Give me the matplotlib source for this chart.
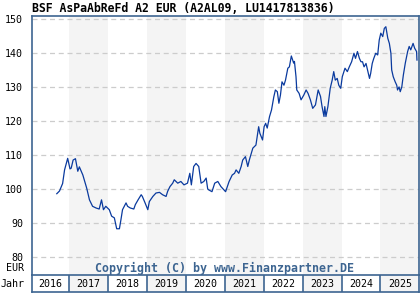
import numpy as np
import matplotlib.pyplot as plt

# price history (decimal year, EUR)
t = [2016.68, 2016.75, 2016.83, 2016.88, 2016.96, 2017.02, 2017.05, 2017.10, 2017.16, 2017.22,
     2017.26, 2017.35, 2017.45, 2017.52, 2017.60, 2017.69, 2017.77, 2017.83, 2017.88, 2017.94,
     2018.03, 2018.09, 2018.16, 2018.22, 2018.29, 2018.33, 2018.37, 2018.46, 2018.50, 2018.57,
     2018.66, 2018.70, 2018.77, 2018.85, 2018.88, 2018.95, 2019.02, 2019.06, 2019.15, 2019.23,
     2019.32, 2019.40, 2019.49, 2019.53, 2019.59, 2019.66, 2019.70, 2019.79, 2019.87, 2019.95,
     2020.04, 2020.10, 2020.14, 2020.20, 2020.26, 2020.33, 2020.39, 2020.46, 2020.52, 2020.56,
     2020.59, 2020.67, 2020.74, 2020.82, 2020.90, 2020.98, 2021.02, 2021.11, 2021.19, 2021.25,
     2021.29, 2021.36, 2021.42, 2021.46, 2021.53, 2021.59, 2021.63, 2021.72, 2021.80, 2021.87,
     2021.90, 2021.97, 2022.01, 2022.05, 2022.09, 2022.15, 2022.20, 2022.26, 2022.30, 2022.35,
     2022.39, 2022.43, 2022.47, 2022.52, 2022.56, 2022.62, 2022.66, 2022.71, 2022.77, 2022.79,
     2022.83, 2022.85, 2022.91, 2022.96, 2023.03, 2023.09, 2023.14, 2023.20, 2023.26, 2023.33,
     2023.40, 2023.46, 2023.50, 2023.55, 2023.57, 2023.60, 2023.65, 2023.71, 2023.76, 2023.80,
     2023.84, 2023.89, 2023.93, 2023.98, 2024.02, 2024.09, 2024.15, 2024.20, 2024.26, 2024.32,
     2024.36, 2024.41, 2024.46, 2024.50, 2024.54, 2024.58, 2024.63, 2024.67, 2024.72, 2024.75,
     2024.79, 2024.83, 2024.88, 2024.93, 2024.97, 2025.01, 2025.06, 2025.10, 2025.14, 2025.19,
     2025.23, 2025.27, 2025.29, 2025.33, 2025.38, 2025.42, 2025.44, 2025.48, 2025.51, 2025.55,
     2025.59, 2025.64, 2025.70, 2025.74, 2025.78, 2025.84, 2025.88, 2025.93, 2025.94]
price = [98.7, 99.5, 101.7, 105.7, 109.1, 106.0, 106.2, 108.6, 109.0, 105.3,
         106.6, 104.2, 100.3, 96.9, 95.0, 94.5, 94.2, 96.9, 94.0, 95.0,
         94.0, 92.1, 91.6, 88.4, 88.4, 91.1, 94.0, 96.0, 95.0, 94.5,
         94.2, 95.5, 96.9, 98.4, 97.9, 96.0, 94.0, 96.4, 97.9, 98.9,
         99.1, 98.4, 97.9, 99.4, 100.8, 101.8, 102.8, 101.8, 102.3, 101.3,
         101.8, 104.7, 101.3, 106.7, 107.6, 106.7, 101.8, 102.3, 103.3, 100.1,
         99.8, 99.3, 101.8, 102.3, 100.8, 99.8, 99.3, 102.3, 104.2, 104.7,
         105.7, 104.7, 106.7, 108.6, 109.6, 106.7, 108.6, 112.1, 113.0, 118.4,
         116.5, 114.5, 118.4, 119.4, 118.0, 121.4, 123.3, 127.2, 129.2, 128.7,
         125.3, 127.7, 131.6, 130.6, 132.1, 135.6, 136.0, 139.2, 137.1, 137.6,
         133.1, 129.2, 128.2, 126.3, 127.7, 129.2, 128.2, 126.3, 123.8, 124.8,
         129.2, 127.3, 124.3, 121.4, 124.3, 121.4, 124.3, 129.7, 132.1, 134.6,
         132.1, 132.6, 130.6, 129.7, 133.1, 135.6, 134.6, 136.0, 137.5, 140.0,
         138.5, 140.5, 138.5, 137.5, 137.5, 136.0, 137.0, 135.1, 132.6, 134.1,
         137.0, 138.5, 140.0, 139.5, 143.9, 145.9, 144.9, 147.3, 147.8, 144.4,
         142.9, 140.0, 135.1, 133.1, 131.6, 130.6, 129.2, 130.1, 128.7, 130.1,
         133.6, 137.1, 140.5, 142.0, 141.0, 142.9, 141.5, 140.5, 138.0]
years = list(range(2016, 2026))
yticks = [80, 90, 100, 110, 120, 130, 140, 150]

frame = '#3d6591'
mono = 'DejaVu Sans Mono'
W, H = 420, 300
x0, x1, ytop, ymid, ybot = 31.5, 419.3, 15.5, 275, 292
xlim = (2016.03, 2026.0)

fig = plt.figure(figsize=(4.2, 3.0), dpi=100)
ax = fig.add_axes([x0 / W, (H - ymid) / H, (x1 - x0) / W, (ymid - ytop) / H])
axy = fig.add_axes([x0 / W, (H - ybot) / H, (x1 - x0) / W, (ybot - ymid) / H])

for a in (ax, axy):
    a.set_xlim(*xlim)
    for y in years:
        if y % 2 == 1:
            a.axvspan(y, y + 1, color='#f4f4f4', lw=0, zorder=0)
    for s in a.spines.values():
        s.set_color(frame)
        s.set_linewidth(1.2)

ax.set_ylim(74.8, 151.1)
ax.set_yticks(yticks)
ax.set_yticklabels([str(v) for v in yticks], family=mono, fontsize=7.2)
ax.tick_params(axis='y', length=0, pad=6)
ax.set_xticks([])
for v in yticks:
    ax.axhline(v, color='#cccccc', lw=0.9, ls=(0, (4, 3)), zorder=1)
ax.plot(t, price, color='#0a3a9e', lw=0.9, zorder=3)
ax.spines['bottom'].set_visible(False)
ax.text(0.164, 0.027, 'Copyright (C) by www.Finanzpartner.DE', transform=ax.transAxes,
        family=mono, fontweight='bold', fontsize=8.4, color='#3d6591', va='center', ha='left')

axy.set_ylim(0, 1)
axy.set_xticks([])
axy.set_yticks([])
for y in years[1:]:
    axy.axvline(y, color=frame, lw=1.2)
for y in years:
    axy.text(y + 0.5, 0.45, str(y), ha='center', va='center', family=mono, fontsize=7.2)

fig.text(24 / W, 1 - 268 / H, 'EUR', ha='right', va='center', family=mono, fontsize=7.2)
fig.text(1 / W, 1 - 284 / H, 'Jahr', ha='left', va='center', family=mono, fontsize=7.2)
fig.text(x0 / W, 1 - 9 / H, 'BSF AsPaAbReFd A2 EUR (A2AL09, LU1417813836)', ha='left',
         va='center', family=mono, fontweight='bold', fontsize=8.3)

fig.savefig('out.png', dpi=100)
